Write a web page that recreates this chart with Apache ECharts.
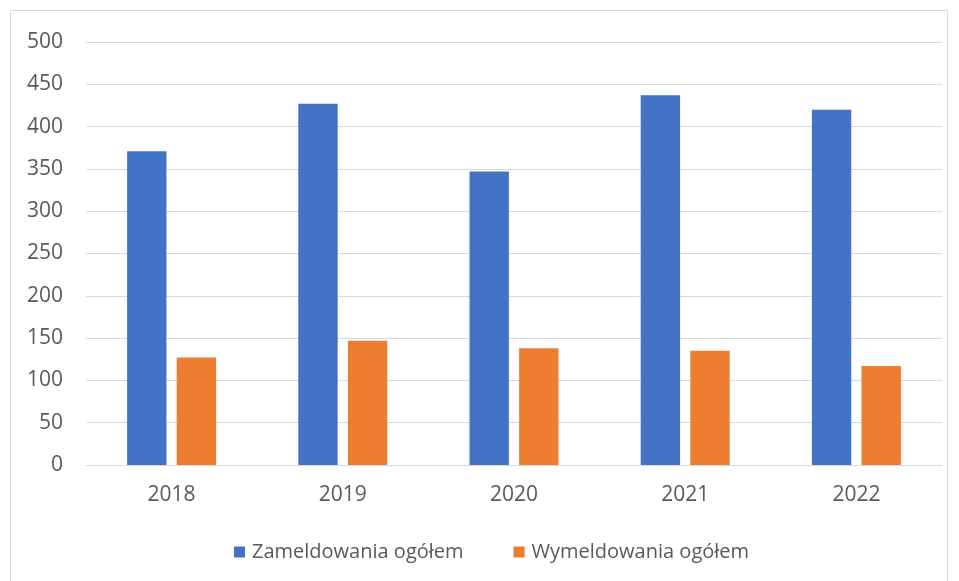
<!DOCTYPE html>
<html>
<head>
<meta charset="utf-8">
<script src="https://cdn.jsdelivr.net/npm/echarts@6/dist/echarts.min.js"></script>
<style>
  html, body { margin: 0; padding: 0; background: #fff; }
  #chart { width: 959px; height: 581px; }
</style>
</head>
<body>
<div id="chart"></div>
<script>
const years = ['2018', '2019', '2020', '2021', '2022']
const zameldowania = [371, 427, 347, 437, 420]
const wymeldowania = [127, 147, 138, 135, 117]

const font = 'Open Sans'
const chart = echarts.init(document.getElementById('chart'))
chart.setOption({
  animation: false,
  color: ['#4472C4', '#ED7D31'],
  textStyle: { fontFamily: font },
  graphic: [{
    type: 'rect',
    shape: { x: 10.5, y: 10.5, width: 937, height: 575 },
    style: { fill: 'none', stroke: '#d9d9d9', lineWidth: 1 },
    silent: true
  }],
  grid: { left: 86, right: 17, top: 42, bottom: 116 },
  legend: {
    top: 537,
    left: 229,
    itemWidth: 11,
    itemHeight: 11,
    itemGap: 50,
    icon: 'rect',
    textStyle: { color: '#595959', fontSize: 20, fontFamily: font, padding: [0, 0, 0, 2] }
  },
  xAxis: {
    type: 'category',
    data: years,
    axisLine: { lineStyle: { color: '#d9d9d9' } },
    axisTick: { show: false },
    axisLabel: { color: '#595959', fontSize: 21, margin: 20 }
  },
  yAxis: {
    type: 'value',
    min: 0,
    max: 500,
    interval: 50,
    axisLine: { show: false },
    axisTick: { show: false },
    splitLine: { lineStyle: { color: '#d9d9d9', width: 1 } },
    axisLabel: { color: '#595959', fontSize: 21, margin: 23 }
  },
  series: [
    {
      name: 'Zameldowania ogółem',
      type: 'bar',
      data: zameldowania,
      barWidth: '23%',
      barGap: '26%'
    },
    {
      name: 'Wymeldowania ogółem',
      type: 'bar',
      data: wymeldowania,
      barWidth: '23%'
    }
  ]
})
</script>
</body>
</html>
